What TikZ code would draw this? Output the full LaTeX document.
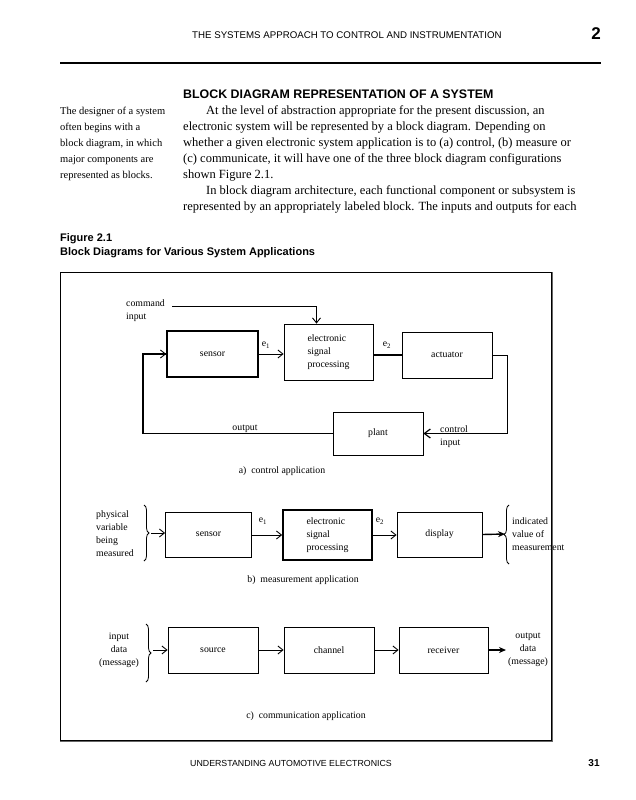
\documentclass[tikz,border=0pt]{standalone}
\usepackage{fontspec}
\setmainfont{Liberation Serif}
\setsansfont{Liberation Sans}
\usetikzlibrary{arrows.meta,decorations.pathreplacing}
\begin{document}
\begin{tikzpicture}[x=1pt,y=-1pt,
  hdrfont/.style={font=\sffamily\fontsize{9.7}{11}\selectfont},
  footfont/.style={font=\sffamily\fontsize{8.8}{10}\selectfont},
  bodyline/.style={anchor=base west,inner sep=0,font=\fontsize{12.5}{16}\selectfont},
  sideline/.style={anchor=base west,inner sep=0,font=\fontsize{10.5}{16}\selectfont},
  capfont/.style={font=\sffamily\bfseries\fontsize{11}{14}\selectfont},
  dfont/.style={font=\fontsize{9.8}{13}\selectfont},
  blk/.style={draw,line width=0.8pt,inner sep=0,dfont},
  thickblk/.style={blk,line width=1.7pt},
  conn/.style={line width=0.9pt},
  barb/.style={conn,-{Straight Barb[length=5pt,width=8pt,line width=0.9pt]}},
  solid arrow/.style={line width=1.4pt,-{Stealth[length=7pt,width=6pt]}},
  brace/.style={decorate,decoration={brace,amplitude=5pt},line width=0.8pt},
  lbl/.style={dfont,inner sep=0}]
\useasboundingbox (0,0) rectangle (635,800);
\fill[white] (0,0) rectangle (635,800);

% page header
\node[hdrfont,anchor=base west,inner sep=0] (hdr) at (192,38.5) {THE SYSTEMS APPROACH TO CONTROL AND INSTRUMENTATION};
\node[font=\sffamily\bfseries\fontsize{17}{20}\selectfont,anchor=base,inner sep=0] (chap) at (596,40) {2};
\draw[line width=2.4pt] (60,63) -- (601,63);

% heading and text
\node[font=\sffamily\bfseries\fontsize{12.4}{14}\selectfont,anchor=base west,inner sep=0] (head) at (183,98.5) {BLOCK DIAGRAM REPRESENTATION OF A SYSTEM};

\node[sideline] (s1) at (60,114) {The designer of a system};
\node[sideline] (s2) at (60,130) {often begins with a};
\node[sideline] (s3) at (60,146) {block diagram, in which};
\node[sideline] (s4) at (60,162) {major components are};
\node[sideline] (s5) at (60,178) {represented as blocks.};

\node[bodyline] (b1) at (206,114) {At the level of abstraction appropriate for the present discussion, an};
\node[bodyline] (b2) at (183,130) {electronic system will be represented by a block diagram. Depending on};
\node[bodyline] (b3) at (183,146) {whether a given electronic system application is to (a) control, (b) measure or};
\node[bodyline] (b4) at (183,162) {(c) communicate, it will have one of the three block diagram configurations};
\node[bodyline] (b5) at (183,178) {shown Figure 2.1.};
\node[bodyline] (b6) at (206,194) {In block diagram architecture, each functional component or subsystem is};
\node[bodyline] (b7) at (183,210) {represented by an appropriately labeled block. The inputs and outputs for each};

% figure caption
\node[capfont,anchor=base west,inner sep=0] (fig) at (60,241) {Figure 2.1};
\node[capfont,anchor=base west,inner sep=0] (figt) at (60,255) {Block Diagrams for Various System Applications};

% frame
\draw[gray!80!black,line width=1.6pt] (552.5,272) -- (552.5,741.5) -- (60,741.5);
\draw[line width=0.8pt] (60,272) rectangle (551.5,740.5);

% ---------- a) control application
\node[thickblk,minimum width=91pt,minimum height=46pt] (sensA) at (212.5,354) {sensor};
\node[blk,minimum width=89pt,minimum height=56pt,align=left] (espA) at (328.5,352) {electronic\\signal\\processing};
\node[blk,minimum width=90pt,minimum height=46pt] (actA) at (447,355) {actuator};
\node[blk,minimum width=90pt,minimum height=43pt] (plantA) at (378,433.5) {plant};

\coordinate (cmdA) at (172,306);
\coordinate (fbL) at (143,0);
\coordinate (fbR) at (507,0);

\node[lbl,align=left,anchor=west] (cmdlbl) at (126,310.5) {command\\input};
\draw[barb] (cmdA) -| ([xshift=-12pt]espA.north);
\draw[barb] (sensA.east) -- (sensA.east -| espA.west);
\draw[line width=1.8pt] (actA.west -| espA.east) -- (actA.west);
\draw[conn] (actA.east) -- (actA.east -| fbR) |- (plantA.east);
\draw[line width=1.2pt,-{Straight Barb[length=6pt,width=9pt,line width=1.2pt]}] ([xshift=30pt]plantA.east) -- (plantA.east);
\draw[line width=1.4pt] (plantA.west) -- (plantA.west -| fbL) |- (sensA.west);
\draw[barb] ([xshift=-14pt]sensA.west) -- (sensA.west);

\node[lbl] (e1A) at (266,345) {e\textsubscript{1}};
\node[lbl] (e2A) at (387,345) {e\textsubscript{2}};
\node[lbl] (outA) at (245,429) {output};
\node[lbl,align=left,anchor=west] (ctlA) at (440,436.5) {control\\input};
\node[lbl] (capA) at (282,471) {a)\ \ control application};

% ---------- b) measurement application
\node[blk,minimum width=86pt,minimum height=45pt] (sensB) at (208.5,534.5) {sensor};
\node[thickblk,minimum width=89pt,minimum height=50pt,align=left] (espB) at (327.5,535) {electronic\\signal\\processing};
\node[blk,minimum width=85pt,minimum height=45pt] (dispB) at (439.5,534.5) {display};

\node[lbl,align=left,anchor=west] (physB) at (96,533.5) {physical\\variable\\being\\measured};
\draw[brace] (144,505) -- (144,561);
\coordinate (inB) at (151,533);
\draw[barb] (inB) -- (inB -| sensB.west);
\draw[barb] (sensB.east |- espB.west) -- (espB.west);
\draw[barb] (espB.east) -- (espB.east -| dispB.west);
\coordinate (outB) at (505,534);
\draw[solid arrow] (dispB.east) -- (outB);
\draw[brace] (509,564) -- (509,505);
\node[lbl,align=left,anchor=west] (indB) at (512,534) {indicated\\value of\\measurement};
\node[lbl] (e1B) at (263,521) {e\textsubscript{1}};
\node[lbl] (e2B) at (380,521) {e\textsubscript{2}};
\node[lbl] (capB) at (303,580) {b)\ \ measurement application};

% ---------- c) communication application
\node[blk,minimum width=90pt,minimum height=46pt] (srcC) at (213,650) {source};
\node[blk,minimum width=90pt,minimum height=46pt] (chC) at (329,650) {channel};
\node[blk,minimum width=89pt,minimum height=46pt] (rcvC) at (443.5,650) {receiver};

\node[lbl,align=center] (inC) at (119,650) {input\\data\\(message)};
\draw[brace] (146,624) -- (146,682);
\coordinate (inCpt) at (153,650);
\draw[barb] (inCpt) -- (srcC.west);
\draw[barb] (srcC.east) -- (chC.west);
\draw[barb] (chC.east) -- (rcvC.west);
\coordinate (outC) at (506,650);
\draw[solid arrow] (rcvC.east) -- (outC);
\node[lbl,align=center] (outCl) at (528,650) {output\\data\\(message)};
\node[lbl] (capC) at (306,716) {c)\ \ communication application};

% footer
\node[footfont,anchor=base west,inner sep=0] (foot) at (190,766) {UNDERSTANDING AUTOMOTIVE ELECTRONICS};
\node[font=\sffamily\bfseries\fontsize{10}{12}\selectfont,anchor=base,inner sep=0] (pg) at (594,766) {31};
\end{tikzpicture}
\end{document}
